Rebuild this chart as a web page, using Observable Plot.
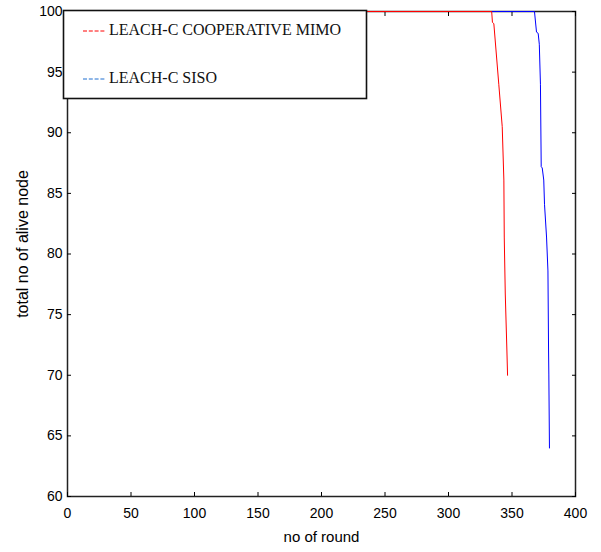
<!DOCTYPE html>
<html><head><meta charset="utf-8">
<script src="https://cdn.jsdelivr.net/npm/d3@7"></script>
<script src="https://cdn.jsdelivr.net/npm/@observablehq/plot@0.6"></script>
<style>
body{margin:0;background:#fff}
#wrap{position:relative;width:601px;height:552px;background:#fff}
#wrap svg.legend{position:absolute;left:0;top:0}
</style></head><body><div id="wrap"></div>
<script>
const seriesNames = ["LEACH-C COOPERATIVE MIMO", "LEACH-C SISO"];
const seriesColors = ["#ff0000", "#0000ff"];
const legendDashColors = ["#ff0000", "#1f6fd0"];
const mimoRounds = [0, 334, 334.6, 335.7, 339.6, 342.3, 343.6, 343.9, 344.7, 346, 346.5];
const mimoAlive  = [100, 100, 99.1, 99.0, 94.0, 90.5, 86.1, 81.4, 76.7, 72.0, 70.0];
const sisoRounds = [0, 367.7, 369.3, 370.6, 371.5, 372.4, 373, 373.8, 375, 375.6, 377.2, 378.3, 378.8, 379, 379.5];
const sisoAlive  = [100, 100, 98.3, 98.2, 97.3, 94.0, 87.2, 87.1, 86.1, 84.1, 81.4, 78.6, 72.0, 70.1, 64.0];
const xTicks = [0, 50, 100, 150, 200, 250, 300, 350, 400];
const yTicks = [60, 65, 70, 75, 80, 85, 90, 95, 100];
const xLabel = "no of round";
const yLabel = "total no of alive node";

const siso = sisoRounds.map((r, i) => ({series: seriesNames[1], round: r, alive: sisoAlive[i]}));
const mimo = mimoRounds.map((r, i) => ({series: seriesNames[0], round: r, alive: mimoAlive[i]}));

const blank = () => "";
const chart = Plot.plot({
  width: 601, height: 552,
  marginLeft: 67, marginRight: 26, marginTop: 11, marginBottom: 56,
  x: {domain: [0, 400]},
  y: {domain: [60, 100]},
  style: {fontFamily: "'Liberation Sans', Arial, sans-serif", fontSize: "14px", background: "#fff", color: "#000"},
  marks: [
    Plot.frame({stroke: "#222", strokeWidth: 1.5}),
    Plot.axisX(xTicks, {anchor: "bottom", tickSize: -4, tickPadding: 16, fontSize: 14, label: null}),
    Plot.axisX(xTicks, {anchor: "top", tickSize: -4, tickFormat: blank, label: null}),
    Plot.axisY(yTicks, {anchor: "left", tickSize: -4, tickPadding: 9, fontSize: 14, label: null}),
    Plot.axisY(yTicks, {anchor: "right", tickSize: -4, tickFormat: blank, label: null}),
    Plot.text([xLabel], {frameAnchor: "bottom", dy: 41, lineAnchor: "middle", textAnchor: "middle", fontSize: 15}),
    Plot.text([yLabel], {frameAnchor: "left", dx: -45, dy: -10, rotate: -90, textAnchor: "middle", lineAnchor: "middle", fontSize: 16}),
    Plot.line(siso, {x: "round", y: "alive", stroke: seriesColors[1], strokeWidth: 1}),
    Plot.line(mimo, {x: "round", y: "alive", stroke: seriesColors[0], strokeWidth: 1})
  ]
});
const wrap = document.getElementById("wrap");
wrap.appendChild(chart);

// legend overlay
const lg = d3.select(wrap).append("svg").attr("class", "legend")
  .attr("width", 601).attr("height", 110);
lg.append("rect").attr("x", 63.5).attr("y", 10.5).attr("width", 303).attr("height", 88)
  .attr("fill", "#fff").attr("stroke", "#111").attr("stroke-width", 1.6);
const rows = [{y: 35, dy: 31}, {y: 83, dy: 79}];
seriesNames.forEach((name, i) => {
  lg.append("line").attr("x1", 83).attr("x2", 105).attr("y1", rows[i].dy).attr("y2", rows[i].dy)
    .attr("stroke", legendDashColors[i]).attr("stroke-width", 1).attr("stroke-dasharray", "4,1.8");
  lg.append("text").attr("x", 109).attr("y", rows[i].y)
    .attr("font-family", "'Liberation Serif', 'Times New Roman', serif").attr("font-size", 16)
    .attr("fill", "#111").text(name);
});
</script></body></html>
